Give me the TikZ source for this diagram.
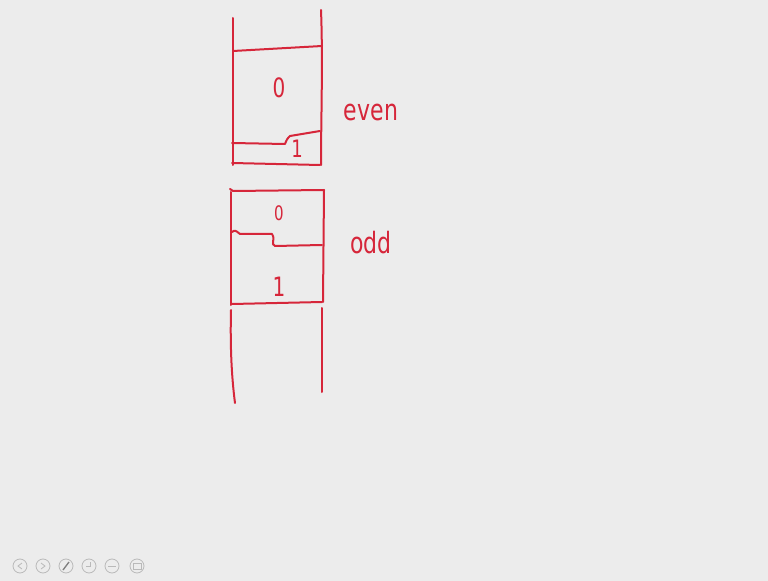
\documentclass[tikz,border=0pt]{standalone}
\usepackage{fontspec}
\setmainfont{DejaVu Sans}
\definecolor{ink}{RGB}{214,38,58}
\definecolor{bg}{RGB}{236,236,236}
\definecolor{icon}{RGB}{185,185,185}
\begin{document}
\begin{tikzpicture}[x=0.75pt,y=-0.75pt,
  pen/.style={draw=ink,line width=1.5pt,line cap=round,line join=round},
  hand/.style={text=ink,inner sep=0pt,font=\fontsize{#1}{#1}\selectfont\addfontfeatures{FakeStretch=0.75}},
  hand/.default=20,
  ui/.style={draw=icon,line width=0.6pt}]
\fill[bg] (0,0) rectangle (768,581);
\useasboundingbox (0,0) rectangle (768,581);
% top block (even)
\draw[pen] (233,18) -- (233,165);
\draw[pen] (321,10) .. controls (323,60) and (321,120) .. (321,165);
\draw[pen] (233,51) -- (322,46);
\draw[pen] (232,143) -- (285,144) .. controls (287,139) .. (290,136) -- (320,131);
\draw[pen] (232,163) -- (320,165);
\node[hand=20] (z1) at (279,88) {0};
\node[hand=18] (o1) at (297,149) {1};
\node[hand=22] (even) at (371,112) {even};
% middle block (odd)
\draw[pen] (231,192) -- (231,305);
\draw[pen] (324,190) -- (323,302);
\draw[pen] (230,189) -- (233,191) -- (324,190);
\draw[pen] (232,232) .. controls (235,230) .. (240,234) -- (272,234) .. controls (276,240) and (270,244) .. (275,246) -- (322,245);
\draw[pen] (232,304) -- (322,302);
\node[hand=15] (z2) at (279,213) {0};
\node[hand=20] (o2) at (279,287) {1};
\node[hand=22] (odd) at (371,243) {odd};
% bottom column
\draw[pen] (231,310) .. controls (230,350) and (232,380) .. (235,403);
\draw[pen] (322,308) -- (322,392);
% toolbar icons
\foreach \i/\x in {1/20,2/43,3/66,4/89,5/112,6/137} {
  \draw[ui] (\x,566) circle (7);
}
\draw[ui] (22,563) -- (18,566) -- (22,569);
\draw[ui] (41,563) -- (45,566) -- (41,569);
\draw[draw=gray,line width=1pt] (63,570) -- (69,562);
\draw[ui] (86,566) -- (90,566) -- (90,562);
\draw[ui] (108,566) -- (116,566);
\draw[ui] (133,563) rectangle (141,569);
\end{tikzpicture}
\end{document}
